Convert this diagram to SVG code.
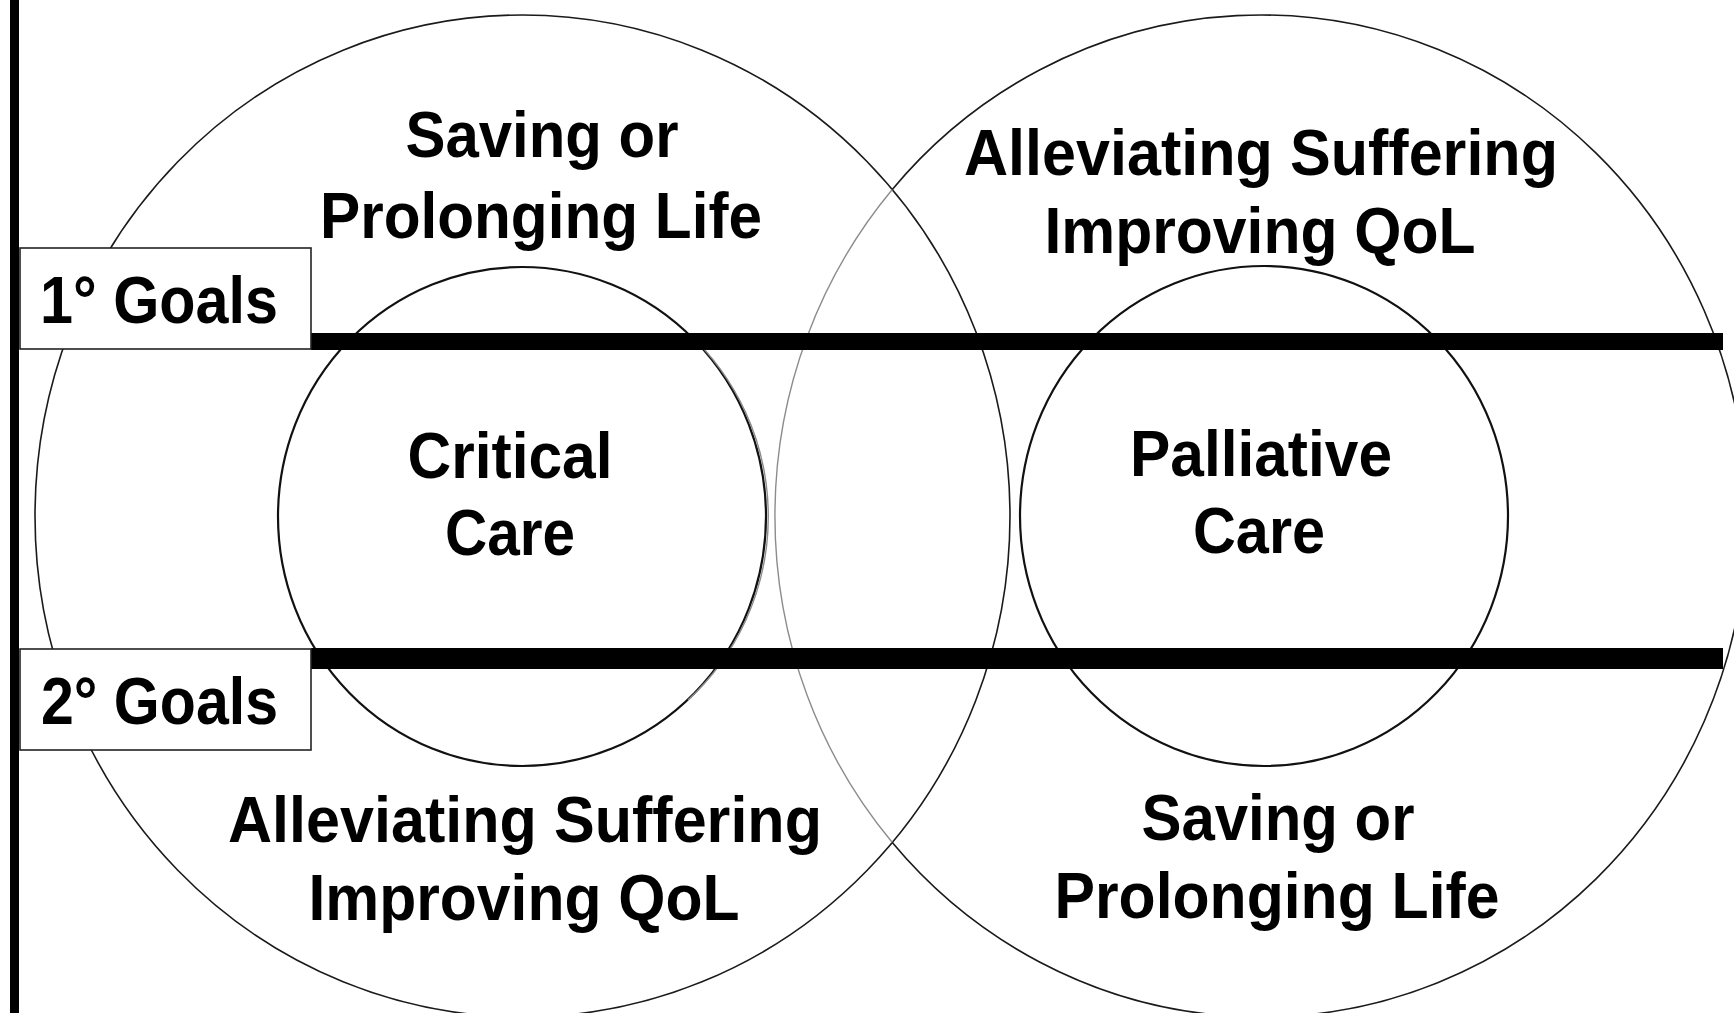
<svg xmlns="http://www.w3.org/2000/svg" width="1734" height="1013" viewBox="0 0 1734 1013">
  <style>
    .ring { fill: none; stroke: #1a1a1a; stroke-width: 1.6; }
    .ring-faint { fill: none; stroke: #8c8c8c; stroke-width: 1.4; }
    .core { fill: none; stroke: #111; stroke-width: 2.2; }
    .bar { fill: #000; }
    .tag { fill: #fff; stroke: #222; stroke-width: 1.6; }
    .lbl { font-family: "Liberation Sans", Arial, sans-serif; font-weight: bold; font-size: 65px; fill: #000; text-anchor: middle; }
    .tag-lbl { font-family: "Liberation Sans", Arial, sans-serif; font-weight: bold; font-size: 66px; fill: #000; }
  </style>

  <rect x="0" y="0" width="1734" height="1013" fill="#fff"/>

  <!-- left frame rule -->
  <rect x="10" y="0" width="9" height="1013" fill="#000"/>

  <!-- Critical care: outer goal ring and inner core -->
  <g id="critical-care">
    <ellipse class="ring" cx="522.5" cy="516" rx="487.5" ry="501"/>
    <ellipse class="core" cx="522" cy="516.5" rx="244" ry="249.5"/>
    <path class="ring-faint" d="M 688 333 A 249 249.5 0 0 1 688 700"/>
    <text class="lbl" x="510" y="478" textLength="205" lengthAdjust="spacingAndGlyphs">Critical</text>
    <text class="lbl" x="510" y="555" textLength="130" lengthAdjust="spacingAndGlyphs">Care</text>
  </g>

  <!-- Palliative care: outer goal ring and inner core -->
  <g id="palliative-care">
    <path class="ring-faint" d="M 892.3 189.5 A 486 501 0 0 0 892.3 842.5"/>
    <path class="ring" d="M 892.3 842.5 A 486 501 0 1 0 892.3 189.5"/>
    <ellipse class="core" cx="1264" cy="516" rx="244" ry="250"/>
    <text class="lbl" x="1261" y="476" textLength="262" lengthAdjust="spacingAndGlyphs">Palliative</text>
    <text class="lbl" x="1259" y="553" textLength="132" lengthAdjust="spacingAndGlyphs">Care</text>
  </g>

  <!-- goal dividers -->
  <g id="dividers">
    <rect class="bar" x="311" y="333" width="1412" height="17"/>
    <rect class="bar" x="311" y="648" width="1412" height="21"/>
  </g>

  <!-- goal level tags -->
  <g id="primary-goals">
    <rect class="tag" x="20" y="248" width="291" height="101"/>
    <text class="tag-lbl" x="40" y="323" textLength="238" lengthAdjust="spacingAndGlyphs">1° Goals</text>
  </g>
  <g id="secondary-goals">
    <rect class="tag" x="20" y="649" width="291" height="101"/>
    <text class="tag-lbl" x="41" y="724" textLength="237" lengthAdjust="spacingAndGlyphs">2° Goals</text>
  </g>

  <!-- critical care goals -->
  <g id="critical-primary">
    <text class="lbl" x="542" y="157" textLength="273" lengthAdjust="spacingAndGlyphs">Saving or</text>
    <text class="lbl" x="541" y="238" textLength="442" lengthAdjust="spacingAndGlyphs">Prolonging Life</text>
  </g>
  <g id="critical-secondary">
    <text class="lbl" x="525" y="842" textLength="594" lengthAdjust="spacingAndGlyphs">Alleviating Suffering</text>
    <text class="lbl" x="524" y="920" textLength="431" lengthAdjust="spacingAndGlyphs">Improving QoL</text>
  </g>

  <!-- palliative care goals -->
  <g id="palliative-primary">
    <text class="lbl" x="1261" y="175" textLength="594" lengthAdjust="spacingAndGlyphs">Alleviating Suffering</text>
    <text class="lbl" x="1260" y="253" textLength="431" lengthAdjust="spacingAndGlyphs">Improving QoL</text>
  </g>
  <g id="palliative-secondary">
    <text class="lbl" x="1278" y="840" textLength="273" lengthAdjust="spacingAndGlyphs">Saving or</text>
    <text class="lbl" x="1277" y="918" textLength="445" lengthAdjust="spacingAndGlyphs">Prolonging Life</text>
  </g>
</svg>
